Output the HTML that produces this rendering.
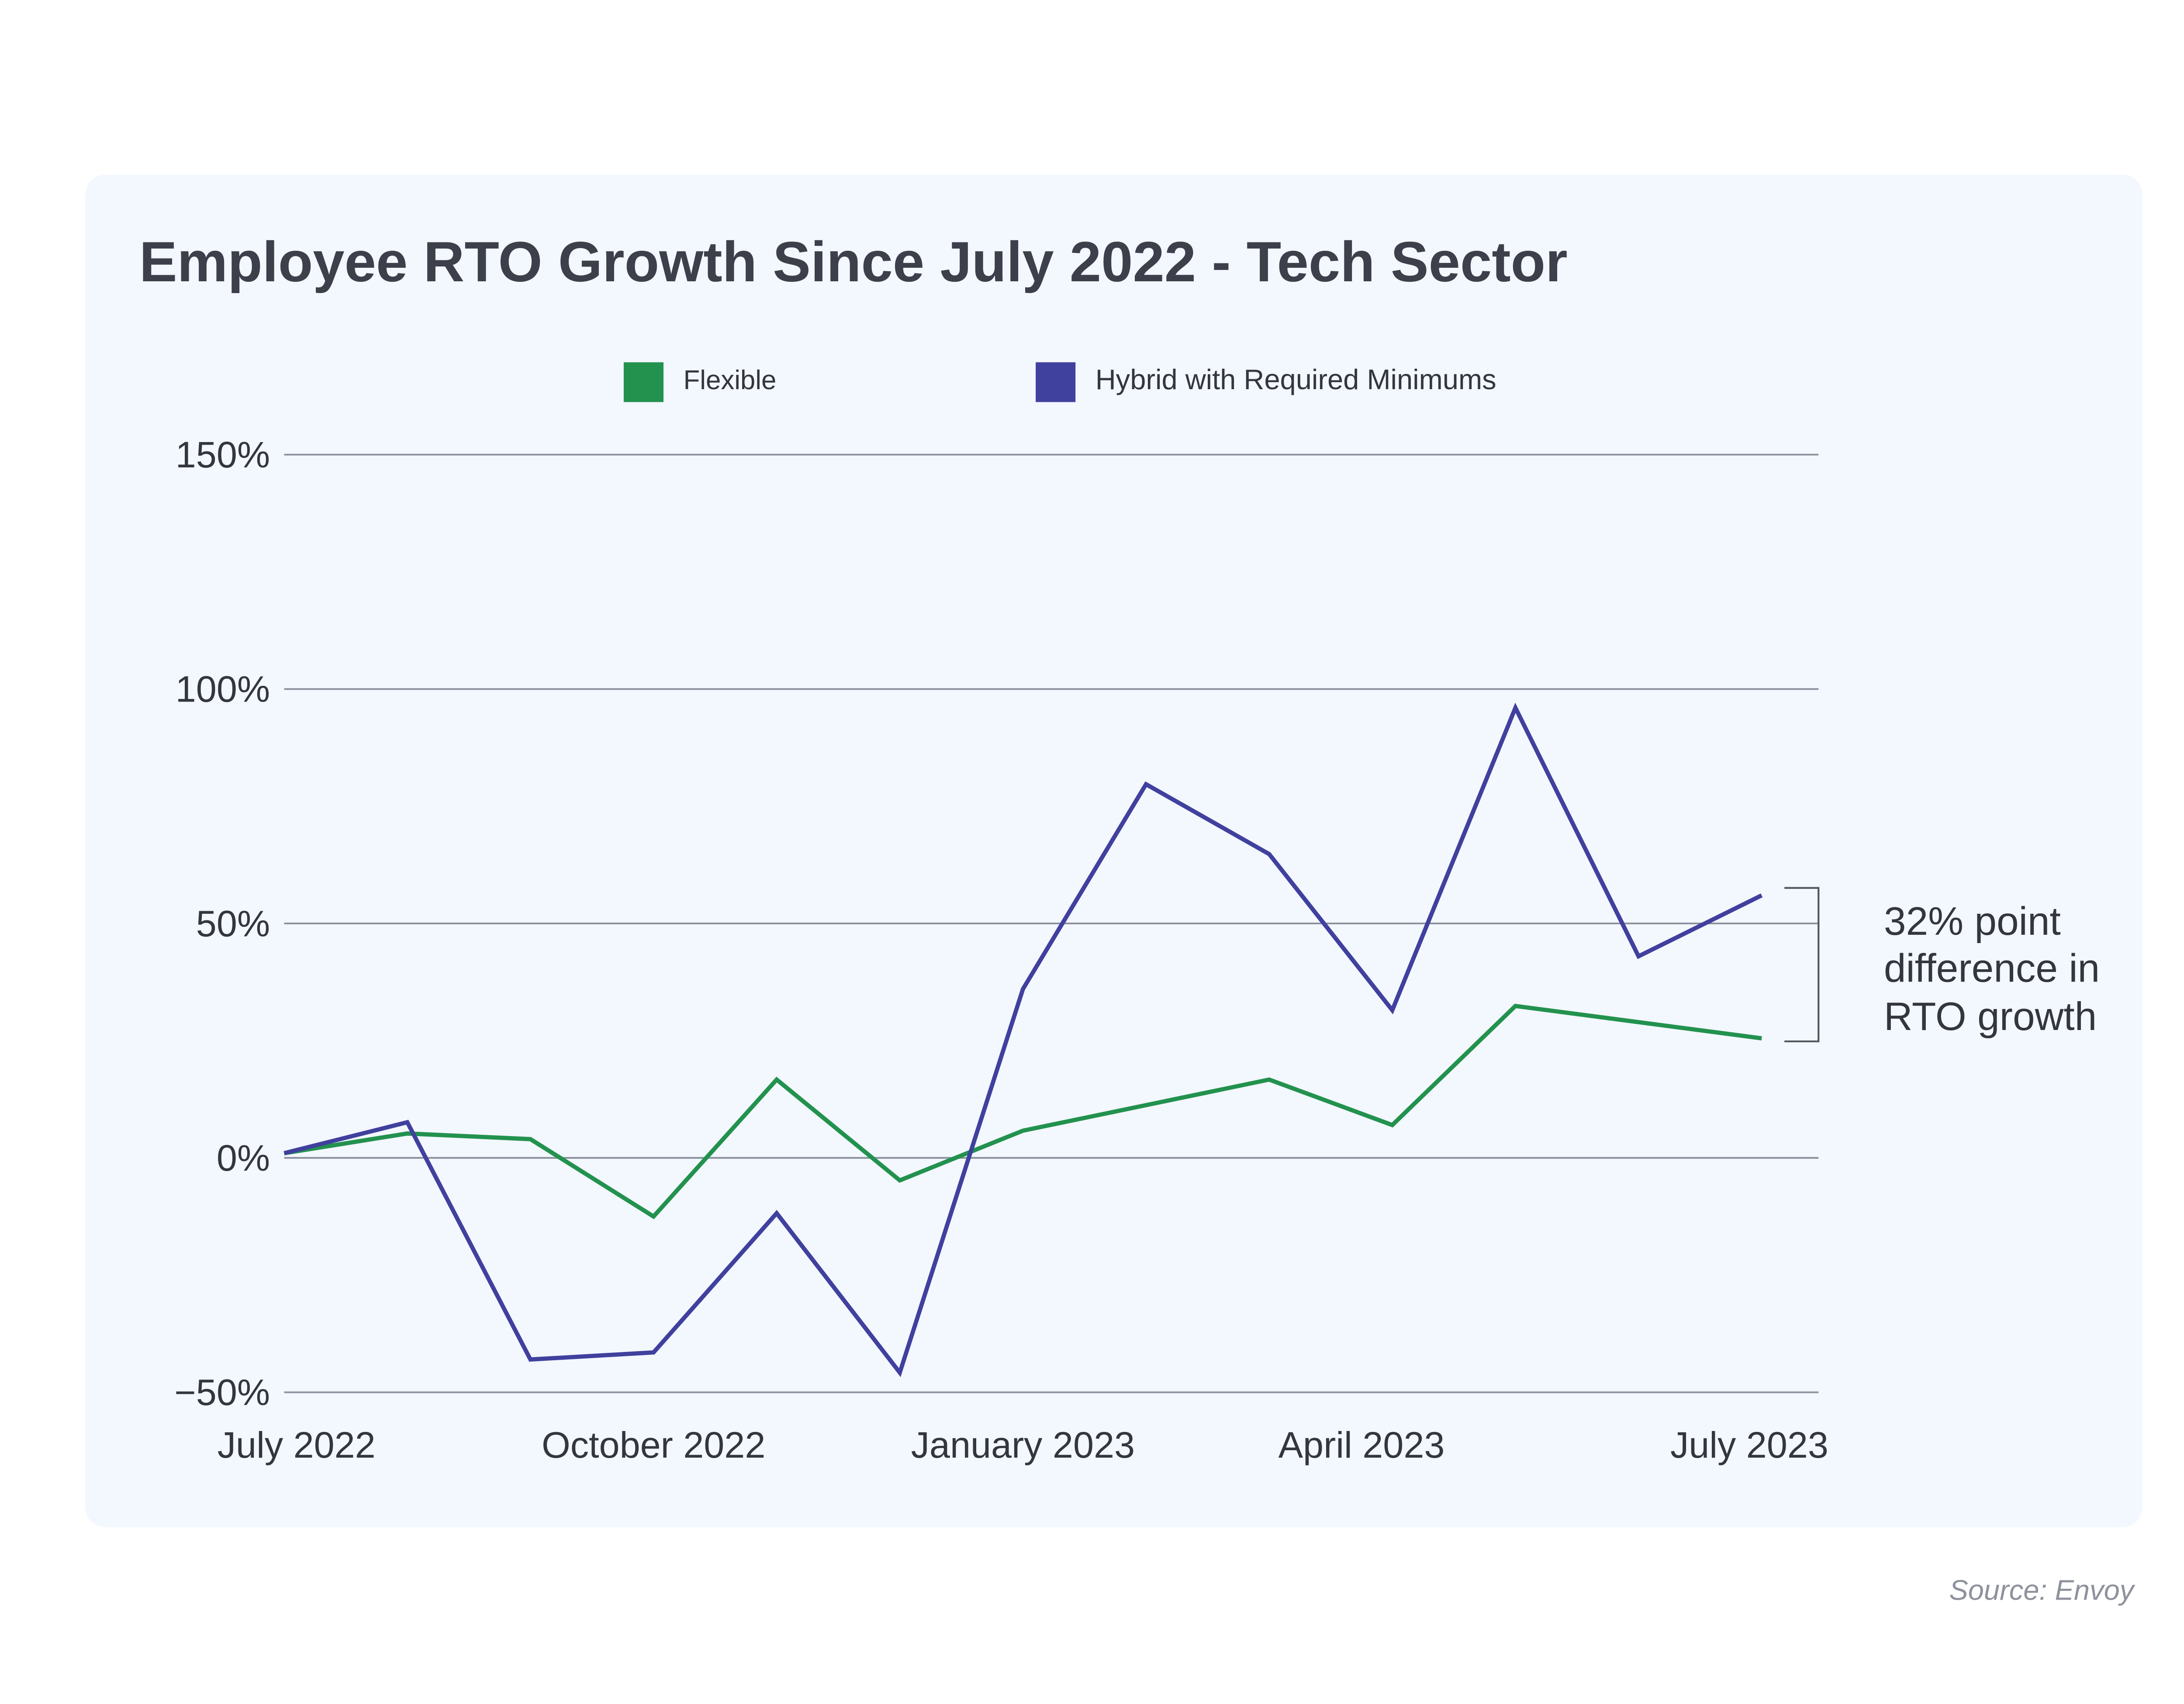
<!DOCTYPE html>
<html><head><meta charset="utf-8"><style>
html,body{margin:0;padding:0;background:#fff;}
svg{display:block;font-family:"Liberation Sans",sans-serif;}
</style></head><body>
<svg id="chart" width="5100" height="3901" viewBox="0 0 1568 1199.4" xmlns="http://www.w3.org/2000/svg">
<rect x="0" y="0" width="1568" height="1199.4" fill="#ffffff"/>
<rect x="60" y="123" width="1448" height="952" rx="14" fill="#f3f7fe"/>
<text x="98" y="198" font-size="40" font-weight="bold" fill="#3d3f4a">Employee RTO Growth Since July 2022 - Tech Sector</text>
<g>
<rect x="439" y="255" width="28" height="28" fill="#22924e"/>
<text x="481" y="274" font-size="19" fill="#33353f">Flexible</text>
<rect x="729" y="255" width="28" height="28" fill="#40409e"/>
<text x="771" y="274" font-size="20" fill="#33353f">Hybrid with Required Minimums</text>
</g>
<g id="grid"></g>
<g id="series"></g>
<g>
<polyline points="1256,625 1280,625 1280,733 1256,733" fill="none" stroke="#55575f" stroke-width="1.3"/>
<text font-size="28" fill="#33353f">
<tspan x="1326" y="658">32% point</tspan><tspan x="1326" y="691">difference in</tspan><tspan x="1326" y="725">RTO growth</tspan></text>
</g>
<text x="1502" y="1126" font-size="20" font-style="italic" fill="#8e929c" text-anchor="end">Source: Envoy</text>
</svg>
<script>
const yTicks = [150, 100, 50, 0, -50];
const yTickLabels = ["150%", "100%", "50%", "0%", "−50%"];
const xLabels = ["July 2022", "October 2022", "January 2023", "April 2023", "July 2023"];
const xLabelMonths = [0.1, 3, 6, 8.75, 11.9];
const flexMonths = [0, 1, 2, 3, 4, 5, 6, 8, 9, 10, 12];
const flexValues = [1, 5.2, 4, -12.5, 16.7, -4.8, 5.8, 16.7, 7, 32.4, 25.5];
const hybridMonths = [0, 1, 2, 3, 4, 5, 6, 7, 8, 9, 10, 11, 12];
const hybridValues = [1, 7.6, -43, -41.5, -11.8, -45.8, 36, 79.7, 64.8, 31.5, 96, 43, 56];

const NS = "http://www.w3.org/2000/svg";
const X0 = 200, X1 = 1240, Y0 = 815, PX_PER_PCT = 3.3;
function xScale(m){ return X0 + (X1 - X0) * m / 12; }
function yScale(v){ return Y0 - v * PX_PER_PCT; }

const grid = document.getElementById('grid');
yTicks.forEach((t, i) => {
  const ln = document.createElementNS(NS, 'line');
  ln.setAttribute('x1', 200); ln.setAttribute('x2', 1280);
  ln.setAttribute('y1', yScale(t)); ln.setAttribute('y2', yScale(t));
  ln.setAttribute('stroke', '#8a909c'); ln.setAttribute('stroke-width', '1.2');
  
  
  grid.appendChild(ln);
  const tx = document.createElementNS(NS, 'text');
  tx.setAttribute('x', 190); tx.setAttribute('y', yScale(t) + 9);
  tx.setAttribute('text-anchor', 'end'); tx.setAttribute('font-size', '26'); tx.setAttribute('fill', '#33353f');
  tx.textContent = yTickLabels[i];
  
  
  grid.appendChild(tx);
});
xLabels.forEach((l, i) => {
  const tx = document.createElementNS(NS, 'text');
  tx.setAttribute('x', xScale(xLabelMonths[i])); tx.setAttribute('y', 1026);
  tx.setAttribute('text-anchor', 'middle'); tx.setAttribute('font-size', '26'); tx.setAttribute('fill', '#33353f');
  tx.textContent = l;
  
  
  grid.appendChild(tx);
});
const series = document.getElementById('series');
function drawLine(months, vals, color, name){
  const pl = document.createElementNS(NS, 'polyline');
  pl.setAttribute('points', months.map((m, i) => xScale(m) + ',' + yScale(vals[i])).join(' '));
  pl.setAttribute('fill', 'none'); pl.setAttribute('stroke', color); pl.setAttribute('stroke-width', '3');
  pl.setAttribute('stroke-linejoin', 'miter');
  
  
  series.appendChild(pl);
}
drawLine(flexMonths, flexValues, '#22924e', 'flexible-line');
drawLine(hybridMonths, hybridValues, '#40409e', 'hybrid-line');
</script>
</body></html>
